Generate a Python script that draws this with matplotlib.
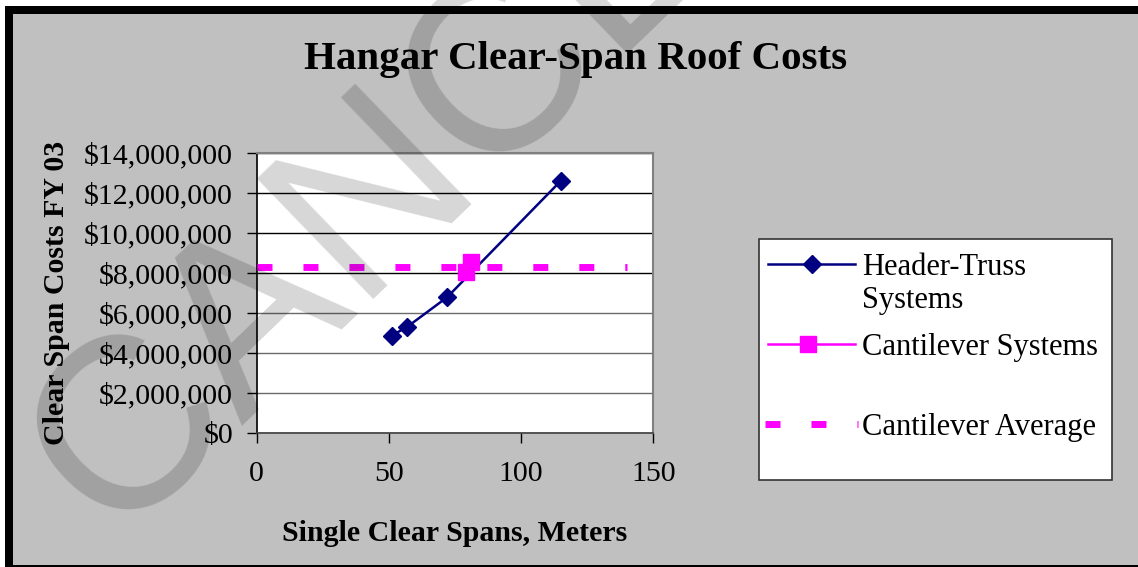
import matplotlib
matplotlib.use("Agg")
import matplotlib.pyplot as plt
from matplotlib.patches import Rectangle
from matplotlib.lines import Line2D
from matplotlib.ticker import FuncFormatter

# ---- data ----
header_x = [51, 57, 72, 115]
header_y = [4.88e6, 5.33e6, 6.80e6, 12.62e6]
cant_x = [79, 81]
cant_y = [8.08e6, 8.55e6]
avg_x = [0, 140]
avg_y = [8.32e6, 8.32e6]
x_ticks = [0, 50, 100, 150]
y_ticks = [0, 2e6, 4e6, 6e6, 8e6, 10e6, 12e6, 14e6]
labels = ["Header-Truss", "Systems", "Cantilever Systems", "Cantilever Average"]

W, H = 1138, 567
SERIF = ["Liberation Serif", "DejaVu Serif"]
NAVY = "#000080"
MAG = "#FF00FF"
DASH = (0, (2.16, 4.46))

fig = plt.figure(figsize=(W / 100, H / 100), dpi=100, facecolor="white")

def fx(px):
    return px / W

def fy(py):
    return 1 - py / H

# outer frame
fig.patches.append(Rectangle((fx(5), fy(567)), fx(1138) - fx(5), fy(6) - fy(567),
                             transform=fig.transFigure, facecolor="black", edgecolor="none", zorder=-3))
fig.patches.append(Rectangle((fx(13), fy(565)), fx(1138) - fx(13), fy(14) - fy(565),
                             transform=fig.transFigure, facecolor="#C0C0C0", edgecolor="none", zorder=-2))

ax = fig.add_axes([fx(256.7), fy(433.3), fx(653.3) - fx(256.7), fy(153.3) - fy(433.3)])
ax.set_facecolor("white")
ax.set_xlim(0, 150)
ax.set_ylim(0, 14e6)
ax.set_xticks(x_ticks)
ax.set_yticks(y_ticks)
ax.yaxis.set_major_formatter(FuncFormatter(lambda v, p: "${:,.0f}".format(v)))
ax.grid(axis="y", color="black", linewidth=1.0, zorder=0)
ax.set_axisbelow(True)
for i, gl in enumerate(ax.yaxis.get_gridlines()):
    if 0 < i < 4:
        gl.set_color("#6a6a6a")
for s in ["top", "right"]:
    ax.spines[s].set_color("#808080")
    ax.spines[s].set_linewidth(1.5)
for s in ["left", "bottom"]:
    ax.spines[s].set_color("black")
    ax.spines[s].set_linewidth(1.2)
ax.spines["bottom"].set_color("#404040")
ax.tick_params(axis="both", direction="out", length=7, width=1, colors="black")
ax.tick_params(axis="y", pad=10)
ax.tick_params(axis="x", pad=13)
for lab in ax.get_xticklabels() + ax.get_yticklabels():
    lab.set_fontfamily(SERIF)
    lab.set_fontsize(21.5)

ax.plot(avg_x, avg_y, color=MAG, linewidth=5, linestyle=DASH,
        dash_capstyle="butt", zorder=3)
ax.plot(header_x, header_y, color=NAVY, linewidth=1.8, marker="D", markersize=9,
        markerfacecolor=NAVY, markeredgecolor=NAVY, zorder=4)
ax.plot(cant_x, cant_y, color=MAG, linewidth=1.8, marker="s", markersize=12,
        markerfacecolor=MAG, markeredgecolor=MAG, zorder=5)

ax.set_xlabel("Single Clear Spans, Meters", fontfamily=SERIF, fontsize=21.5,
              fontweight="bold", labelpad=24)
ax.set_ylabel("Clear Span Costs FY 03", fontfamily=SERIF, fontsize=21.5,
              fontweight="bold", labelpad=10)

fig.text(fx(576), fy(60), "Hangar Clear-Span Roof Costs", fontfamily=SERIF,
         fontsize=29.5, fontweight="bold", ha="center", va="center")

# legend
fig.patches.append(Rectangle((fx(759), fy(480)), fx(1112) - fx(759), fy(239) - fy(480),
                             transform=fig.transFigure, facecolor="white",
                             edgecolor="#333333", linewidth=1.2, zorder=1))
fig.lines.append(Line2D([fx(768), fx(855)], [fy(264), fy(264)], transform=fig.transFigure,
                        color=NAVY, linewidth=1.8, zorder=2))
fig.lines.append(Line2D([fx(812)], [fy(264)], transform=fig.transFigure, color=NAVY,
                        marker="D", markersize=9, linestyle="none", zorder=2))
fig.lines.append(Line2D([fx(768), fx(855)], [fy(344), fy(344)], transform=fig.transFigure,
                        color=MAG, linewidth=1.8, zorder=2))
fig.lines.append(Line2D([fx(808)], [fy(344)], transform=fig.transFigure, color=MAG,
                        marker="s", markersize=11, linestyle="none", zorder=2))
fig.lines.append(Line2D([fx(765), fx(858)], [fy(424), fy(424)], transform=fig.transFigure,
                        color=MAG, linewidth=5, linestyle=DASH,
                        dash_capstyle="butt", zorder=2))
for txt, py in zip(labels, [264, 297, 344, 424]):
    fig.text(fx(862), fy(py), txt, fontfamily=SERIF, fontsize=22, ha="left",
             va="center_baseline", zorder=3)

# watermark
fig.text(fx(112), fy(540), "CANCELLED", fontfamily=["Liberation Sans", "DejaVu Sans"],
         fontsize=176, color="black", alpha=0.16, rotation=44, rotation_mode="anchor",
         ha="left", va="baseline", zorder=10)

fig.savefig("out.png", dpi=100, facecolor="white")
